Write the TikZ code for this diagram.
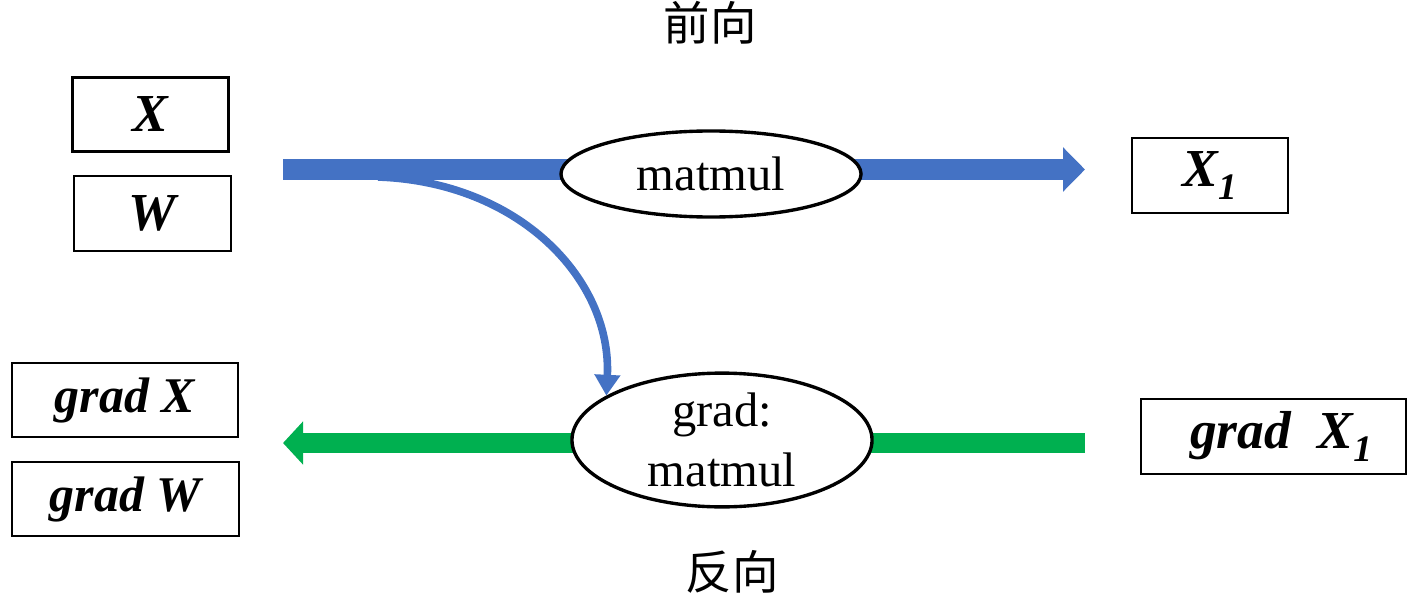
\documentclass[tikz,border=0pt]{standalone}
\usepackage{fontspec}
\setmainfont{Liberation Serif}
\newfontfamily\cjk{Noto Sans CJK SC}
\usetikzlibrary{arrows.meta,shapes.geometric}
\definecolor{fblue}{HTML}{4472C4}
\definecolor{bgreen}{HTML}{00B050}
\begin{document}
\begin{tikzpicture}[x=0.025cm,y=-0.025cm,
  box/.style={draw,line width=1.5pt,inner sep=0pt},
  bigbi/.style={font=\fontsize{38}{40}\selectfont\bfseries\itshape},
  midbi/.style={font=\fontsize{35.5}{38}\selectfont\bfseries\itshape},
  op/.style={ellipse,draw,line width=2.4pt,fill=white,inner sep=0pt,align=center,
    font=\fontsize{34.5}{43}\selectfont},
  cjklabel/.style={font=\cjk\fontsize{33}{36}\selectfont},
  fwdarrow/.style={fblue,line width=0.525cm,-{Triangle[length=0.55cm,width=1.08cm]}},
  bwdarrow/.style={bgreen,line width=0.5cm,-{Triangle[length=0.5cm,width=1.05cm]}},
  linkarrow/.style={fblue,line width=0.19cm,-{Triangle[length=0.52cm,width=0.62cm]}}]
\useasboundingbox (0,0) rectangle (1424,610);

% free ends of the block arrows
\coordinate (fs) at (283,169.5);
\coordinate (fe) at (1085,169.5);
\coordinate (bs) at (1085,443);
\coordinate (be) at (283,443);
\coordinate (cs) at (378,177);

\draw[fwdarrow] (fs) -- (fe);
\draw[bwdarrow] (bs) -- (be);

% titles
\node[cjklabel] (fwd) at (710,23) {前向};
\node[cjklabel] (bwd) at (732,572) {反向};

% operation ellipses
\node[op,minimum width=7.5cm,minimum height=2.15cm] (mm) at (711,174) {matmul};
\node[op,minimum width=7.5cm,minimum height=3cm] (gmm) at (722,440) {grad:\\matmul};

% boxes
\node[box,bigbi,minimum width=3.9cm,minimum height=1.85cm] (x) at (150.5,114.5) {X};
\node[box,bigbi,minimum width=3.92cm,minimum height=1.87cm] (w) at (152.5,213.5) {W};
\node[box,bigbi,minimum width=3.9cm,minimum height=1.87cm] (x1) at (1210,175.5) {X\textsubscript{1}};
\node[box,bigbi,minimum width=6.62cm,minimum height=1.87cm] (gx1) at (1273.5,436.5) {\hspace{0.4cm}grad~~X\textsubscript{1}};
\node[box,midbi,minimum width=5.65cm,minimum height=1.85cm] (gx) at (125,400) {grad X};
\node[box,midbi,minimum width=5.67cm,minimum height=1.85cm] (gw) at (125.5,499) {grad W};

% curved link from forward input to backward op
\draw[linkarrow] (cs) .. controls (520,182) and (612,280) .. (gmm.159);
\end{tikzpicture}
\end{document}
